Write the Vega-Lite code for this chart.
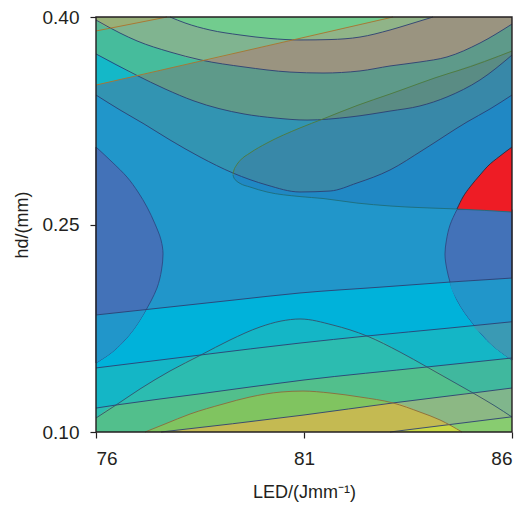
{
  "$schema": "https://vega.github.io/schema/vega-lite/v6.json",
  "width": 416,
  "height": 415,
  "autosize": "none",
  "padding": {"left": 96, "top": 17, "right": 11, "bottom": 76},
  "config": {
    "view": {"fill": "#2196CA", "stroke": null},
    "axis": {
      "labelFont": "Liberation Sans", "titleFont": "Liberation Sans",
      "labelFontSize": 19, "titleFontSize": 18, "titleFontWeight": "normal",
      "labelColor": "#231F20", "titleColor": "#231F20", "tickColor": "#231F20",
      "tickSize": 6, "tickWidth": 1.2, "domain": false, "grid": false, "zindex": 1
    }
  },
  "resolve": {"scale": {"fill": "independent", "stroke": "independent"}},
  "datasets": {
    "areas": [
      {"r":"a01","x":76,"t":0.4,"b":0.3436},{"r":"a01","x":76.577,"t":0.4,"b":0.3328},{"r":"a01","x":77.154,"t":0.4,"b":0.3227},{"r":"a01","x":77.779,"t":0.4,"b":0.3111},{"r":"a01","x":78.5,"t":0.4,"b":0.2988},{"r":"a01","x":79.293,"t":0.4,"b":0.2872},{"r":"a01","x":80.111,"t":0.4,"b":0.2785},{"r":"a01","x":80.904,"t":0.4,"b":0.2735},{"r":"a01","x":81.625,"t":0.4,"b":0.2742},{"r":"a01","x":82.274,"t":0.4,"b":0.28},{"r":"a01","x":83.067,"t":0.4,"b":0.2894},{"r":"a01","x":83.861,"t":0.4,"b":0.3039},{"r":"a01","x":84.918,"t":0.4,"b":0.3241},{"r":"a01","x":85.471,"t":0.4,"b":0.3335},{"r":"a01","x":86,"t":0.4,"b":0.3436},
      {"r":"a02","x":76,"t":0.4,"b":0.3733},{"r":"a02","x":76.962,"t":0.4,"b":0.3581},{"r":"a02","x":77.659,"t":0.4,"b":0.348},{"r":"a02","x":78.356,"t":0.4,"b":0.3393},{"r":"a02","x":79.558,"t":0.4,"b":0.3299},{"r":"a02","x":80.303,"t":0.4,"b":0.327},{"r":"a02","x":81.072,"t":0.4,"b":0.3255},{"r":"a02","x":82.106,"t":0.4,"b":0.3277},{"r":"a02","x":83.067,"t":0.4,"b":0.332},{"r":"a02","x":83.788,"t":0.4,"b":0.3357},{"r":"a02","x":84.438,"t":0.4,"b":0.3422},{"r":"a02","x":85.231,"t":0.4,"b":0.3545},{"r":"a02","x":86,"t":0.4,"b":0.3725},
      {"r":"a03","x":76,"t":0.4,"b":0.3978},{"r":"a03","x":76.577,"t":0.4,"b":0.3884},{"r":"a03","x":76.986,"t":0.4,"b":0.3827},{"r":"a03","x":77.779,"t":0.4,"b":0.3747},{"r":"a03","x":78.524,"t":0.4,"b":0.3689},{"r":"a03","x":79.558,"t":0.4,"b":0.3639},{"r":"a03","x":80.663,"t":0.4,"b":0.3602},{"r":"a03","x":81.457,"t":0.4,"b":0.3595},{"r":"a03","x":82.346,"t":0.4,"b":0.361},{"r":"a03","x":83.067,"t":0.4,"b":0.3646},{"r":"a03","x":83.788,"t":0.4,"b":0.3675},{"r":"a03","x":84.438,"t":0.4,"b":0.3711},{"r":"a03","x":85.231,"t":0.4,"b":0.3812},{"r":"a03","x":86,"t":0.4,"b":0.3949},
      {"r":"a04","x":77.779,"t":0.4,"b":0.4},{"r":"a04","x":78.139,"t":0.4,"b":0.3957},{"r":"a04","x":78.74,"t":0.4,"b":0.3906},{"r":"a04","x":79.462,"t":0.4,"b":0.387},{"r":"a04","x":80.183,"t":0.4,"b":0.3845},{"r":"a04","x":80.904,"t":0.4,"b":0.3834},{"r":"a04","x":81.625,"t":0.4,"b":0.3837},{"r":"a04","x":82.346,"t":0.4,"b":0.3855},{"r":"a04","x":83.067,"t":0.4,"b":0.3906},{"r":"a04","x":83.548,"t":0.4,"b":0.3949},{"r":"a04","x":84.101,"t":0.4,"b":0.4},
      {"r":"a05","x":76,"t":0.4,"b":0.3508},{"r":"a05","x":83.139,"t":0.4,"b":0.4},
      {"r":"a06","x":76,"t":0.4,"b":0.3733},{"r":"a06","x":76.577,"t":0.4,"b":0.3646},{"r":"a06","x":76.962,"t":0.4,"b":0.3581},{"r":"a06","x":77.779,"t":0.4,"b":0.3631},{"r":"a06","x":78.5,"t":0.4,"b":0.368},{"r":"a06","x":79.558,"t":0.4,"b":0.3753},{"r":"a06","x":80.904,"t":0.4,"b":0.3846},{"r":"a06","x":82.106,"t":0.4,"b":0.3929},{"r":"a06","x":83.139,"t":0.4,"b":0.4},
      {"r":"a07","x":76,"t":0.4,"b":0.3978},{"r":"a07","x":76.986,"t":0.4,"b":0.3827},{"r":"a07","x":77.779,"t":0.4,"b":0.3747},{"r":"a07","x":78.524,"t":0.4,"b":0.3689},{"r":"a07","x":79.558,"t":0.4,"b":0.3753},{"r":"a07","x":80.663,"t":0.4,"b":0.3829},{"r":"a07","x":81.865,"t":0.4,"b":0.3913},{"r":"a07","x":83.139,"t":0.4,"b":0.4},
      {"r":"a08","x":77.779,"t":0.4,"b":0.4},{"r":"a08","x":78.139,"t":0.4,"b":0.3957},{"r":"a08","x":78.74,"t":0.4,"b":0.3906},{"r":"a08","x":79.462,"t":0.4,"b":0.387},{"r":"a08","x":80.183,"t":0.4,"b":0.3845},{"r":"a08","x":80.663,"t":0.4,"b":0.3836},{"r":"a08","x":80.904,"t":0.4,"b":0.3846},{"r":"a08","x":81.865,"t":0.4,"b":0.3913},{"r":"a08","x":83.139,"t":0.4,"b":0.4},
      {"r":"a09","x":76,"t":0.4,"b":0.3899},{"r":"a09","x":77.707,"t":0.4,"b":0.4},
      {"r":"a10","x":76,"t":0.4,"b":0.3978},{"r":"a10","x":76.358,"t":0.4,"b":0.392},{"r":"a10","x":76.577,"t":0.4,"b":0.3933},{"r":"a10","x":77.058,"t":0.4,"b":0.3962},{"r":"a10","x":77.707,"t":0.4,"b":0.4},
      {"r":"a11","x":76,"t":0.1846,"b":0.1},{"r":"a11","x":77.659,"t":0.19,"b":0.1},{"r":"a11","x":79.317,"t":0.1954,"b":0.1},{"r":"a11","x":80.904,"t":0.2005,"b":0.1},{"r":"a11","x":82.827,"t":0.2047,"b":0.1},{"r":"a11","x":84.51,"t":0.2084,"b":0.1},{"r":"a11","x":86,"t":0.2113,"b":0.1},
      {"r":"a12","x":76,"t":0.1463,"b":0.1},{"r":"a12","x":78.524,"t":0.1557,"b":0.1},{"r":"a12","x":80.904,"t":0.1643,"b":0.1},{"r":"a12","x":82.514,"t":0.1694,"b":0.1},{"r":"a12","x":84.51,"t":0.1752,"b":0.1},{"r":"a12","x":86,"t":0.1797,"b":0.1},
      {"r":"a13","x":76,"t":0.1173,"b":0.1},{"r":"a13","x":76.481,"t":0.1195,"b":0.1},{"r":"a13","x":78.5,"t":0.1276,"b":0.1},{"r":"a13","x":81,"t":0.1376,"b":0.1},{"r":"a13","x":83.957,"t":0.147,"b":0.1},{"r":"a13","x":86,"t":0.1535,"b":0.1},
      {"r":"a14","x":82.827,"t":0.1434,"b":0.1},{"r":"a14","x":83.957,"t":0.147,"b":0.1},{"r":"a14","x":84.99,"t":0.1503,"b":0.1},{"r":"a14","x":86,"t":0.1535,"b":0.1},
      {"r":"a15","x":82.827,"t":0.1197,"b":0.1},{"r":"a15","x":83.139,"t":0.121,"b":0.1},{"r":"a15","x":85.063,"t":0.1282,"b":0.1},{"r":"a15","x":86,"t":0.1318,"b":0.1},
      {"r":"a16","x":76,"t":0.1101,"b":0.1},{"r":"a16","x":76.481,"t":0.1195,"b":0.1},{"r":"a16","x":77.058,"t":0.1311,"b":0.1},{"r":"a16","x":77.779,"t":0.1441,"b":0.1},{"r":"a16","x":78.524,"t":0.1557,"b":0.1},{"r":"a16","x":79.221,"t":0.1665,"b":0.1},{"r":"a16","x":79.942,"t":0.1759,"b":0.1},{"r":"a16","x":80.447,"t":0.1802,"b":0.1},{"r":"a16","x":80.904,"t":0.1817,"b":0.1},{"r":"a16","x":81.697,"t":0.1773,"b":0.1},{"r":"a16","x":82.514,"t":0.1694,"b":0.1},{"r":"a16","x":83.308,"t":0.1578,"b":0.1},{"r":"a16","x":83.957,"t":0.147,"b":0.1},{"r":"a16","x":84.51,"t":0.1376,"b":0.1},{"r":"a16","x":85.063,"t":0.1282,"b":0.1},{"r":"a16","x":85.591,"t":0.1188,"b":0.1},{"r":"a16","x":86,"t":0.1108,"b":0.1},
      {"r":"a17","x":76,"t":0.1101,"b":0.1},{"r":"a17","x":76.481,"t":0.1195,"b":0.1},{"r":"a17","x":77.058,"t":0.1311,"b":0.1},{"r":"a17","x":77.779,"t":0.1441,"b":0.1},{"r":"a17","x":78.524,"t":0.1557,"b":0.1},{"r":"a17","x":79.221,"t":0.1582,"b":0.1},{"r":"a17","x":79.942,"t":0.1608,"b":0.1},{"r":"a17","x":80.447,"t":0.1627,"b":0.1},{"r":"a17","x":80.904,"t":0.1643,"b":0.1},{"r":"a17","x":81.697,"t":0.1668,"b":0.1},{"r":"a17","x":82.514,"t":0.1694,"b":0.1},{"r":"a17","x":83.308,"t":0.1578,"b":0.1},{"r":"a17","x":83.957,"t":0.147,"b":0.1},{"r":"a17","x":84.51,"t":0.1376,"b":0.1},{"r":"a17","x":85.063,"t":0.1282,"b":0.1},{"r":"a17","x":85.591,"t":0.1188,"b":0.1},{"r":"a17","x":86,"t":0.1108,"b":0.1},
      {"r":"a18","x":76,"t":0.1101,"b":0.1},{"r":"a18","x":76.481,"t":0.1195,"b":0.1},{"r":"a18","x":77.058,"t":0.1218,"b":0.1},{"r":"a18","x":77.779,"t":0.1247,"b":0.1},{"r":"a18","x":78.524,"t":0.1277,"b":0.1},{"r":"a18","x":79.221,"t":0.1306,"b":0.1},{"r":"a18","x":79.942,"t":0.1334,"b":0.1},{"r":"a18","x":80.447,"t":0.1354,"b":0.1},{"r":"a18","x":80.904,"t":0.1372,"b":0.1},{"r":"a18","x":81.697,"t":0.1398,"b":0.1},{"r":"a18","x":82.514,"t":0.1425,"b":0.1},{"r":"a18","x":83.308,"t":0.1449,"b":0.1},{"r":"a18","x":83.957,"t":0.147,"b":0.1},{"r":"a18","x":84.51,"t":0.1376,"b":0.1},{"r":"a18","x":85.063,"t":0.1282,"b":0.1},{"r":"a18","x":85.591,"t":0.1188,"b":0.1},{"r":"a18","x":86,"t":0.1108,"b":0.1},
      {"r":"a19","x":77.563,"t":0.1,"b":0.1},{"r":"a19","x":77.779,"t":0.1008,"b":0.1},{"r":"a19","x":78.524,"t":0.1035,"b":0.1},{"r":"a19","x":79.221,"t":0.106,"b":0.1},{"r":"a19","x":79.942,"t":0.1086,"b":0.1},{"r":"a19","x":80.447,"t":0.1104,"b":0.1},{"r":"a19","x":80.904,"t":0.1119,"b":0.1},{"r":"a19","x":81.697,"t":0.115,"b":0.1},{"r":"a19","x":82.514,"t":0.1183,"b":0.1},{"r":"a19","x":83.308,"t":0.1216,"b":0.1},{"r":"a19","x":83.957,"t":0.124,"b":0.1},{"r":"a19","x":84.51,"t":0.1261,"b":0.1},{"r":"a19","x":85.063,"t":0.1282,"b":0.1},{"r":"a19","x":85.591,"t":0.1188,"b":0.1},{"r":"a19","x":86,"t":0.1108,"b":0.1},
      {"r":"a20","x":83.067,"t":0.1,"b":0.1},{"r":"a20","x":83.957,"t":0.1034,"b":0.1},{"r":"a20","x":84.51,"t":0.1054,"b":0.1},{"r":"a20","x":85.063,"t":0.1075,"b":0.1},{"r":"a20","x":85.591,"t":0.1094,"b":0.1},{"r":"a20","x":86,"t":0.1108,"b":0.1},
      {"r":"a21","x":77.178,"t":0.1,"b":0.1},{"r":"a21","x":77.659,"t":0.1058,"b":0.1},{"r":"a21","x":78.26,"t":0.113,"b":0.1},{"r":"a21","x":79.053,"t":0.1202,"b":0.1},{"r":"a21","x":79.702,"t":0.1253,"b":0.1},{"r":"a21","x":80.447,"t":0.1289,"b":0.1},{"r":"a21","x":80.976,"t":0.1296,"b":0.1},{"r":"a21","x":81.625,"t":0.1282,"b":0.1},{"r":"a21","x":82.346,"t":0.1253,"b":0.1},{"r":"a21","x":83.139,"t":0.121,"b":0.1},{"r":"a21","x":83.788,"t":0.1144,"b":0.1},{"r":"a21","x":84.269,"t":0.1087,"b":0.1},{"r":"a21","x":84.798,"t":0.1,"b":0.1},
      {"r":"a22","x":77.563,"t":0.1,"b":0.1},{"r":"a22","x":77.659,"t":0.1004,"b":0.1},{"r":"a22","x":78.26,"t":0.1025,"b":0.1},{"r":"a22","x":79.053,"t":0.1053,"b":0.1},{"r":"a22","x":79.702,"t":0.1076,"b":0.1},{"r":"a22","x":80.447,"t":0.1104,"b":0.1},{"r":"a22","x":80.976,"t":0.1122,"b":0.1},{"r":"a22","x":81.625,"t":0.1148,"b":0.1},{"r":"a22","x":82.346,"t":0.1177,"b":0.1},{"r":"a22","x":83.139,"t":0.121,"b":0.1},{"r":"a22","x":83.788,"t":0.1144,"b":0.1},{"r":"a22","x":84.269,"t":0.1087,"b":0.1},{"r":"a22","x":84.798,"t":0.1,"b":0.1},
      {"r":"a23","x":83.067,"t":0.1,"b":0.1},{"r":"a23","x":83.308,"t":0.1009,"b":0.1},{"r":"a23","x":83.788,"t":0.1027,"b":0.1},{"r":"a23","x":84.269,"t":0.1045,"b":0.1},{"r":"a23","x":84.438,"t":0.1051,"b":0.1},{"r":"a23","x":84.51,"t":0.1047,"b":0.1},{"r":"a23","x":84.798,"t":0.1,"b":0.1},
      {"r":"a24","x":79.293,"t":0.2862,"b":0.2858},{"r":"a24","x":79.317,"t":0.2894,"b":0.2836},{"r":"a24","x":79.365,"t":0.2923,"b":0.2818},{"r":"a24","x":79.462,"t":0.2962,"b":0.2797},{"r":"a24","x":79.702,"t":0.3017,"b":0.2771},{"r":"a24","x":80.111,"t":0.3089,"b":0.2735},{"r":"a24","x":80.904,"t":0.3198,"b":0.2702},{"r":"a24","x":81.457,"t":0.3263,"b":0.2688},{"r":"a24","x":82.274,"t":0.336,"b":0.2655},{"r":"a24","x":83.067,"t":0.3443,"b":0.2634},{"r":"a24","x":84.51,"t":0.3595,"b":0.2614},{"r":"a24","x":84.678,"t":0.361,"b":0.2612},{"r":"a24","x":86,"t":0.3754,"b":0.259},
      {"r":"a25","x":79.293,"t":0.2861,"b":0.2858},{"r":"a25","x":79.317,"t":0.2862,"b":0.2836},{"r":"a25","x":79.365,"t":0.2861,"b":0.2818},{"r":"a25","x":79.462,"t":0.2855,"b":0.2797},{"r":"a25","x":79.702,"t":0.2829,"b":0.2771},{"r":"a25","x":80.111,"t":0.2785,"b":0.2735},{"r":"a25","x":80.904,"t":0.2735,"b":0.2702},{"r":"a25","x":81.457,"t":0.2738,"b":0.2688},{"r":"a25","x":82.274,"t":0.28,"b":0.2655},{"r":"a25","x":83.067,"t":0.2894,"b":0.2634},{"r":"a25","x":84.51,"t":0.3163,"b":0.2614},{"r":"a25","x":84.678,"t":0.3195,"b":0.2612},{"r":"a25","x":86,"t":0.3436,"b":0.259},
      {"r":"a26","x":81.457,"t":0.3263,"b":0.3263},{"r":"a26","x":82.274,"t":0.336,"b":0.3284},{"r":"a26","x":83.067,"t":0.3443,"b":0.332},{"r":"a26","x":83.788,"t":0.3519,"b":0.3357},{"r":"a26","x":84.51,"t":0.3595,"b":0.3433},{"r":"a26","x":85.231,"t":0.3672,"b":0.3545},{"r":"a26","x":86,"t":0.3754,"b":0.3725}
    ],
    "ellipses": [
      {"r":"e1","y":0.306,"xl":76,"xr":76},{"r":"e1","y":0.2952,"xl":76,"xr":76.385},{"r":"e1","y":0.2843,"xl":76,"xr":76.745},{"r":"e1","y":0.2735,"xl":76,"xr":77.01},{"r":"e1","y":0.2626,"xl":76,"xr":77.226},{"r":"e1","y":0.2504,"xl":76,"xr":77.418},{"r":"e1","y":0.2388,"xl":76,"xr":77.563},{"r":"e1","y":0.2287,"xl":76,"xr":77.611},{"r":"e1","y":0.2171,"xl":76,"xr":77.575},{"r":"e1","y":0.2041,"xl":76,"xr":77.466},{"r":"e1","y":0.1947,"xl":76,"xr":77.322},{"r":"e1","y":0.1846,"xl":76,"xr":77.13},{"r":"e1","y":0.1745,"xl":76,"xr":76.913},{"r":"e1","y":0.165,"xl":76,"xr":76.649},{"r":"e1","y":0.1571,"xl":76,"xr":76.361},{"r":"e1","y":0.1499,"xl":76,"xr":76},
      {"r":"e2","y":0.1885,"xl":77.2,"xr":77.2},{"r":"e2","y":0.1868,"xl":76.661,"xr":77.171},{"r":"e2","y":0.1846,"xl":76,"xr":77.13},{"r":"e2","y":0.1745,"xl":76,"xr":76.913},{"r":"e2","y":0.165,"xl":76,"xr":76.649},{"r":"e2","y":0.1571,"xl":76,"xr":76.361},{"r":"e2","y":0.1499,"xl":76,"xr":76},
      {"r":"e3","y":0.2608,"xl":84.678,"xr":86},{"r":"e3","y":0.2496,"xl":84.51,"xr":86},{"r":"e3","y":0.2388,"xl":84.425,"xr":86},{"r":"e3","y":0.2287,"xl":84.389,"xr":86},{"r":"e3","y":0.2171,"xl":84.438,"xr":86},{"r":"e3","y":0.2084,"xl":84.51,"xr":86},{"r":"e3","y":0.1954,"xl":84.678,"xr":86},{"r":"e3","y":0.1773,"xl":85.087,"xr":86},{"r":"e3","y":0.1629,"xl":85.519,"xr":86},{"r":"e3","y":0.152,"xl":86,"xr":86},
      {"r":"e4","y":0.2113,"xl":86,"xr":86},{"r":"e4","y":0.2099,"xl":85.25,"xr":86},{"r":"e4","y":0.2084,"xl":84.51,"xr":86},{"r":"e4","y":0.1954,"xl":84.678,"xr":86},{"r":"e4","y":0.1773,"xl":85.087,"xr":86},{"r":"e4","y":0.1629,"xl":85.519,"xr":86},{"r":"e4","y":0.152,"xl":86,"xr":86},
      {"r":"e5","y":0.1797,"xl":86,"xr":86},{"r":"e5","y":0.1783,"xl":85.527,"xr":86},{"r":"e5","y":0.1769,"xl":85.075,"xr":86},{"r":"e5","y":0.1701,"xl":85.303,"xr":86},{"r":"e5","y":0.1629,"xl":85.519,"xr":86},{"r":"e5","y":0.152,"xl":86,"xr":86}
    ],
    "red": [
      {"x":84.678,"t":0.2612,"b":0.2612},{"x":84.822,"t":0.2699,"b":0.261},{"x":84.99,"t":0.2771,"b":0.2607},{"x":85.231,"t":0.2858,"b":0.2604},{"x":85.399,"t":0.2916,"b":0.2601},{"x":85.712,"t":0.2995,"b":0.2596},{"x":86,"t":0.306,"b":0.259}
    ],
    "lines": [
      {"l":"U1","x":77.779,"y":0.4},{"l":"U1","x":78.139,"y":0.3957},{"l":"U1","x":78.74,"y":0.3906},{"l":"U1","x":79.462,"y":0.387},{"l":"U1","x":80.183,"y":0.3845},{"l":"U1","x":80.904,"y":0.3834},{"l":"U1","x":81.625,"y":0.3837},{"l":"U1","x":82.346,"y":0.3855},{"l":"U1","x":83.067,"y":0.3906},{"l":"U1","x":83.548,"y":0.3949},{"l":"U1","x":84.101,"y":0.4},
      {"l":"U2","x":76,"y":0.3978},{"l":"U2","x":76.577,"y":0.3884},{"l":"U2","x":76.986,"y":0.3827},{"l":"U2","x":77.779,"y":0.3747},{"l":"U2","x":78.524,"y":0.3689},{"l":"U2","x":79.558,"y":0.3639},{"l":"U2","x":80.663,"y":0.3602},{"l":"U2","x":81.457,"y":0.3595},{"l":"U2","x":82.346,"y":0.361},{"l":"U2","x":83.067,"y":0.3646},{"l":"U2","x":83.788,"y":0.3675},{"l":"U2","x":84.438,"y":0.3711},{"l":"U2","x":85.231,"y":0.3812},{"l":"U2","x":86,"y":0.3949},
      {"l":"U3","x":76,"y":0.3733},{"l":"U3","x":76.962,"y":0.3581},{"l":"U3","x":77.659,"y":0.348},{"l":"U3","x":78.356,"y":0.3393},{"l":"U3","x":79.558,"y":0.3299},{"l":"U3","x":80.303,"y":0.327},{"l":"U3","x":81.072,"y":0.3255},{"l":"U3","x":82.106,"y":0.3277},{"l":"U3","x":83.067,"y":0.332},{"l":"U3","x":83.788,"y":0.3357},{"l":"U3","x":84.438,"y":0.3422},{"l":"U3","x":85.231,"y":0.3545},{"l":"U3","x":86,"y":0.3725},
      {"l":"U4","x":76,"y":0.3436},{"l":"U4","x":76.577,"y":0.3328},{"l":"U4","x":77.154,"y":0.3227},{"l":"U4","x":77.779,"y":0.3111},{"l":"U4","x":78.5,"y":0.2988},{"l":"U4","x":79.293,"y":0.2872},{"l":"U4","x":80.111,"y":0.2785},{"l":"U4","x":80.904,"y":0.2735},{"l":"U4","x":81.625,"y":0.2742},{"l":"U4","x":82.274,"y":0.28},{"l":"U4","x":83.067,"y":0.2894},{"l":"U4","x":83.861,"y":0.3039},{"l":"U4","x":84.918,"y":0.3241},{"l":"U4","x":85.471,"y":0.3335},{"l":"U4","x":86,"y":0.3436},
      {"l":"O1","x":76,"y":0.3899},{"l":"O1","x":77.707,"y":0.4},
      {"l":"O2","x":76,"y":0.3508},{"l":"O2","x":83.139,"y":0.4},
      {"l":"G","x":79.293,"y":0.2862},{"l":"G","x":79.317,"y":0.2894},{"l":"G","x":79.365,"y":0.2923},{"l":"G","x":79.462,"y":0.2962},{"l":"G","x":79.702,"y":0.3017},{"l":"G","x":80.111,"y":0.3089},{"l":"G","x":80.904,"y":0.3198},{"l":"G","x":81.457,"y":0.3263},{"l":"G","x":82.274,"y":0.336},{"l":"G","x":83.067,"y":0.3443},{"l":"G","x":84.51,"y":0.3595},{"l":"G","x":84.678,"y":0.361},{"l":"G","x":86,"y":0.3754},
      {"l":"L","x":79.293,"y":0.2858},{"l":"L","x":79.317,"y":0.2836},{"l":"L","x":79.365,"y":0.2818},{"l":"L","x":79.462,"y":0.2797},{"l":"L","x":79.702,"y":0.2771},{"l":"L","x":80.111,"y":0.2735},{"l":"L","x":80.904,"y":0.2702},{"l":"L","x":81.457,"y":0.2688},{"l":"L","x":82.274,"y":0.2655},{"l":"L","x":83.067,"y":0.2634},{"l":"L","x":84.51,"y":0.2614},{"l":"L","x":84.678,"y":0.2612},{"l":"L","x":86,"y":0.259},
      {"l":"S1","x":76,"y":0.1846},{"l":"S1","x":77.659,"y":0.19},{"l":"S1","x":79.317,"y":0.1954},{"l":"S1","x":80.904,"y":0.2005},{"l":"S1","x":82.827,"y":0.2047},{"l":"S1","x":84.51,"y":0.2084},{"l":"S1","x":86,"y":0.2113},
      {"l":"S2","x":76,"y":0.1463},{"l":"S2","x":78.524,"y":0.1557},{"l":"S2","x":80.904,"y":0.1643},{"l":"S2","x":82.514,"y":0.1694},{"l":"S2","x":84.51,"y":0.1752},{"l":"S2","x":86,"y":0.1797},
      {"l":"S3","x":76,"y":0.1173},{"l":"S3","x":76.481,"y":0.1195},{"l":"S3","x":78.5,"y":0.1276},{"l":"S3","x":81,"y":0.1376},{"l":"S3","x":83.957,"y":0.147},{"l":"S3","x":86,"y":0.1535},
      {"l":"S4","x":77.563,"y":0.1},{"l":"S4","x":81,"y":0.1123},{"l":"S4","x":83.139,"y":0.121},{"l":"S4","x":85.063,"y":0.1282},{"l":"S4","x":86,"y":0.1318},
      {"l":"S5","x":83.067,"y":0.1},{"l":"S5","x":86,"y":0.111},
      {"l":"P1","x":76,"y":0.1101},{"l":"P1","x":76.481,"y":0.1195},{"l":"P1","x":77.058,"y":0.1311},{"l":"P1","x":77.779,"y":0.1441},{"l":"P1","x":78.524,"y":0.1557},{"l":"P1","x":79.221,"y":0.1665},{"l":"P1","x":79.942,"y":0.1759},{"l":"P1","x":80.447,"y":0.1802},{"l":"P1","x":80.904,"y":0.1817},{"l":"P1","x":81.697,"y":0.1773},{"l":"P1","x":82.514,"y":0.1694},{"l":"P1","x":83.308,"y":0.1578},{"l":"P1","x":83.957,"y":0.147},{"l":"P1","x":84.51,"y":0.1376},{"l":"P1","x":85.063,"y":0.1282},{"l":"P1","x":85.591,"y":0.1188},{"l":"P1","x":86,"y":0.1108},
      {"l":"P2","x":77.178,"y":0.1},{"l":"P2","x":77.659,"y":0.1058},{"l":"P2","x":78.26,"y":0.113},{"l":"P2","x":79.053,"y":0.1202},{"l":"P2","x":79.702,"y":0.1253},{"l":"P2","x":80.447,"y":0.1289},{"l":"P2","x":80.976,"y":0.1296},{"l":"P2","x":81.625,"y":0.1282},{"l":"P2","x":82.346,"y":0.1253},{"l":"P2","x":83.139,"y":0.121},{"l":"P2","x":83.788,"y":0.1144},{"l":"P2","x":84.269,"y":0.1087},{"l":"P2","x":84.798,"y":0.1},
      {"l":"RED","x":84.678,"y":0.2612},{"l":"RED","x":84.822,"y":0.2699},{"l":"RED","x":84.99,"y":0.2771},{"l":"RED","x":85.231,"y":0.2858},{"l":"RED","x":85.399,"y":0.2916},{"l":"RED","x":85.712,"y":0.2995},{"l":"RED","x":86,"y":0.306}
    ]
  },
  "layer": [
    {
      "data": {"name": "areas"},
      "mark": {"type": "area", "interpolate": "monotone"},
      "encoding": {
        "x": {"field": "x", "type": "quantitative", "scale": {"domain": [76, 86], "nice": false, "zero": false},
              "axis": {"values": [76, 81, 86], "format": "d", "title": "LED/(Jmm⁻¹)", "labelPadding": 11, "titlePadding": 15}},
        "y": {"field": "t", "type": "quantitative", "stack": null, "scale": {"domain": [0.1, 0.4], "nice": false, "zero": false},
              "axis": {"values": [0.1, 0.25, 0.4], "format": ".2f", "title": "hd/(mm)", "labelPadding": 11, "titlePadding": 11}},
        "y2": {"field": "b"},
        "fill": {"field": "r", "type": "nominal", "legend": null,
          "scale": {
            "domain": ["a01","a02","a03","a04","a05","a06","a07","a08","a09","a10","a11","a12","a13","a14","a15","a16","a17","a18","a19","a20","a21","a22","a23","a24","a25","a26"],
            "range": ["#3294B2","#5E9A8A","#9A9480","#90B488","#14B8C8","#46BC9C","#80B490","#72CC8E","#5AB894","#98B078","#00B2DA","#14B6C6","#2CBCB0","#40B89E","#80B68C","#14B6C6","#2CBCB0","#52BF8C","#8CB884","#88CC70","#80C460","#C4BA52","#C8D844","#3888A8","#2088C4","#5A8C84"]
          }}
      }
    },
    {
      "data": {"name": "ellipses"},
      "mark": {"type": "area", "orient": "horizontal", "interpolate": "monotone", "strokeWidth": 0.9},
      "encoding": {
        "y": {"field": "y", "type": "quantitative", "scale": {"domain": [0.1, 0.4], "nice": false, "zero": false},
              "axis": {"values": [0.1, 0.25, 0.4], "format": ".2f", "title": "hd/(mm)", "labelPadding": 11, "titlePadding": 11}},
        "x": {"field": "xl", "type": "quantitative", "stack": null, "scale": {"domain": [76, 86], "nice": false, "zero": false},
              "axis": {"values": [76, 81, 86], "format": "d", "title": "LED/(Jmm⁻¹)", "labelPadding": 11, "titlePadding": 15}},
        "x2": {"field": "xr"},
        "fill": {"field": "r", "type": "nominal", "legend": null,
          "scale": {"domain": ["e1","e2","e3","e4","e5"], "range": ["#4372B8","#2196CA","#4372B8","#2196CA","#3A9AB4"]}},
        "stroke": {"field": "r", "type": "nominal", "legend": null,
          "scale": {"domain": ["e1","e2","e3","e4","e5"], "range": ["#2D4A85","transparent","#2D4A85","transparent","transparent"]}}
      }
    },
    {
      "data": {"name": "red"},
      "mark": {"type": "area", "interpolate": "monotone", "color": "#EE1C25"},
      "encoding": {
        "x": {"field": "x", "type": "quantitative", "scale": {"domain": [76, 86], "nice": false, "zero": false},
              "axis": {"values": [76, 81, 86], "format": "d", "title": "LED/(Jmm⁻¹)", "labelPadding": 11, "titlePadding": 15}},
        "y": {"field": "t", "type": "quantitative", "stack": null, "scale": {"domain": [0.1, 0.4], "nice": false, "zero": false},
              "axis": {"values": [0.1, 0.25, 0.4], "format": ".2f", "title": "hd/(mm)", "labelPadding": 11, "titlePadding": 11}},
        "y2": {"field": "b"}
      }
    },
    {
      "data": {"name": "lines"},
      "mark": {"type": "line", "interpolate": "monotone", "strokeWidth": 0.9},
      "encoding": {
        "x": {"field": "x", "type": "quantitative", "scale": {"domain": [76, 86], "nice": false, "zero": false},
              "axis": {"values": [76, 81, 86], "format": "d", "title": "LED/(Jmm⁻¹)", "labelPadding": 11, "titlePadding": 15}},
        "y": {"field": "y", "type": "quantitative", "scale": {"domain": [0.1, 0.4], "nice": false, "zero": false},
              "axis": {"values": [0.1, 0.25, 0.4], "format": ".2f", "title": "hd/(mm)", "labelPadding": 11, "titlePadding": 11}},
        "stroke": {"field": "l", "type": "nominal", "legend": null,
          "scale": {
            "domain": ["U1","U2","U3","U4","O1","O2","G","L","S1","S2","S3","S4","S5","P1","P2","RED"],
            "range": ["#2C3F73","#2C3F73","#2C3F73","#2C3F73","#B0722A","#B0722A","#4F7A3A","#1D6E7C","#2C3F73","#2C3F73","#2C3F73","#2C3F73","#2C3F73","#35506A","#8C6A3C","#2A2A3A"]
          }}
      }
    },
    {
      "data": {"values": [{}]},
      "mark": {"type": "rect", "fill": "transparent", "stroke": "#231F20", "strokeWidth": 1.4},
      "encoding": {
        "x": {"datum": 76, "type": "quantitative", "scale": {"domain": [76, 86], "nice": false, "zero": false},
              "axis": {"values": [76, 81, 86], "format": "d", "title": "LED/(Jmm⁻¹)", "labelPadding": 11, "titlePadding": 15}},
        "x2": {"datum": 86},
        "y": {"datum": 0.1, "type": "quantitative", "scale": {"domain": [0.1, 0.4], "nice": false, "zero": false},
              "axis": {"values": [0.1, 0.25, 0.4], "format": ".2f", "title": "hd/(mm)", "labelPadding": 11, "titlePadding": 11}},
        "y2": {"datum": 0.4}
      }
    }
  ]
}
